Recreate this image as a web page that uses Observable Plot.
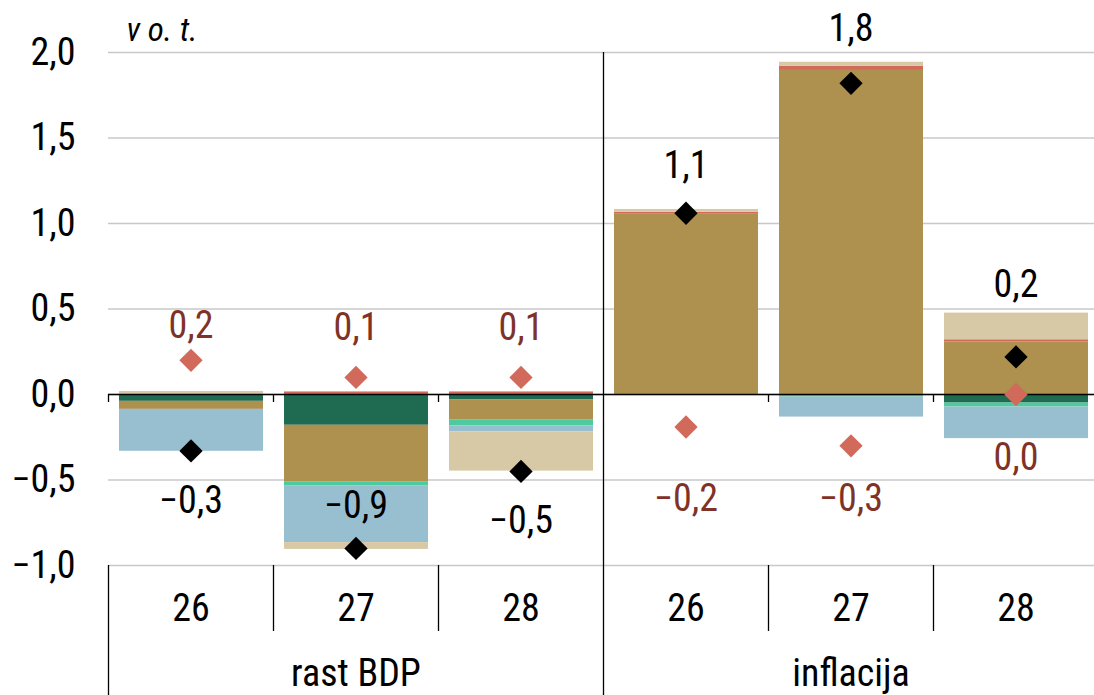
<!DOCTYPE html>
<html>
<head>
<meta charset="utf-8">
<script src="https://cdn.jsdelivr.net/npm/d3@7"></script>
<script src="https://cdn.jsdelivr.net/npm/@observablehq/plot@0.6"></script>
<style>
  body { margin: 0; background: #fff; }
  #chart svg { display: block; }
</style>
</head>
<body>
<div id="chart"></div>
<script>
// ---- data ----
const groups = ["rast BDP", "inflacija"];
const years = ["26", "27", "28", "26", "27", "28"];
const seriesNames = ["s1", "s2", "s3", "s4", "s5", "s6"];
const seriesColors = ["#1e6b51", "#ae904f", "#4ecb9e", "#98bfcf", "#d26a5c", "#d8c9a6"];
const s1 = [-0.04, -0.18, -0.03, 0, 0, -0.05];
const s2 = [-0.047, -0.33, -0.12, 1.054, 1.895, 0.308];
const s3 = [0, -0.023, -0.033, 0, -0.015, -0.023];
const s4 = [-0.245, -0.333, -0.035, 0, -0.117, -0.185];
const s5 = [0, 0.015, 0.015, 0.012, 0.025, 0.012];
const s6 = [0.018, -0.04, -0.23, 0.016, 0.023, 0.156];
const totals = [-0.33, -0.9, -0.45, 1.06, 1.82, 0.22];
const totalLabels = ["\u22120,3", "\u22120,9", "\u22120,5", "1,1", "1,8", "0,2"];
const totalLabelAt = [-0.62, -0.65, -0.74, 1.34, 2.14, 0.64];
const alt = [0.2, 0.1, 0.1, -0.19, -0.3, 0.0];
const altLabels = ["0,2", "0,1", "0,1", "\u22120,2", "\u22120,3", "0,0"];
const altLabelAt = [0.40, 0.39, 0.39, -0.61, -0.61, -0.37];
const yTicks = [-1, -0.5, 0, 0.5, 1, 1.5, 2];
const unitLabel = "v o. t.";

// ---- build ----
const series = [s1, s2, s3, s4, s5, s6];
const rows = [];
series.forEach((vals, k) => vals.forEach((v, i) => { if (v !== 0) rows.push({i, s: seriesNames[k], v}); }));
const idx = d3.range(years.length);
const fmt = d => (d < 0 ? "\u2212" : "") + Math.abs(d).toFixed(1).replace(".", ",");
const FONT = "'Liberation Sans Narrow', 'Arial Narrow', 'Roboto Condensed', 'Liberation Sans', sans-serif";
const FS = 38;

const chart = Plot.plot({
  width: 1094,
  height: 695,
  marginLeft: 108,
  marginRight: 0,
  marginTop: 52,
  marginBottom: 130,
  style: {fontFamily: FONT, fontSize: FS + "px", color: "#000", background: "#fff"},
  x: {domain: [0, 6], range: [108, 1098], axis: null},
  y: {domain: [-1, 2], axis: null},
  color: {domain: seriesNames, range: seriesColors},
  marks: [
    Plot.gridY(yTicks, {stroke: "#c8c8c8", strokeOpacity: 1, strokeWidth: 1.5}),
    Plot.axisY(yTicks, {tickSize: 0, tickPadding: 33, tickFormat: fmt, fontSize: FS, fill: "#000", label: null}),
    Plot.rectY(rows, {x1: d => d.i, x2: d => d.i + 1, y: "v", fill: "s", insetLeft: 11, insetRight: 10}),
    Plot.ruleY([0], {stroke: "#000", strokeWidth: 1.5}),
    Plot.ruleX([0, 1, 2, 4, 5], {y1: () => 0, y2: () => 0, insetBottom: -8, stroke: "#000", strokeWidth: 1.3}),
    Plot.ruleX([3], {y1: () => 2, y2: () => -1, insetBottom: -130, stroke: "#000", strokeWidth: 1.3}),
    Plot.ruleX([0], {y1: () => -1, y2: () => -1, insetBottom: -130, stroke: "#000", strokeWidth: 1.3}),
    Plot.ruleX([1, 2, 4, 5], {y1: () => -1, y2: () => -1, insetBottom: -66, stroke: "#000", strokeWidth: 1.3}),
    Plot.dot(idx, {x: i => i + 0.5, y: i => alt[i], symbol: "diamond2", r: 10.5, fill: "#d26a5c", stroke: "none"}),
    Plot.dot(idx, {x: i => i + 0.5, y: i => totals[i], symbol: "diamond2", r: 10.5, fill: "#000", stroke: "none"}),
    Plot.text(idx, {x: i => i + 0.5, y: i => totalLabelAt[i], text: i => totalLabels[i], fontSize: FS, fill: "#000"}),
    Plot.text(idx, {x: i => i + 0.5, y: i => altLabelAt[i], text: i => altLabels[i], fontSize: FS, fill: "#7f3328"}),
    Plot.text(idx, {x: i => i + 0.5, y: () => -1, text: i => years[i], dy: 43, fontSize: FS, fill: "#000"}),
    Plot.text(groups, {x: (d, i) => i * 3 + 1.5, y: () => -1, text: d => d, dy: 108, fontSize: FS, fill: "#000"}),
    Plot.text([unitLabel], {x: () => 0, y: () => 2, text: d => d, textAnchor: "start", dx: 18, dy: -22, fontSize: 33, fontStyle: "italic", fill: "#000"})
  ]
});
document.getElementById("chart").appendChild(chart);
</script>
</body>
</html>
